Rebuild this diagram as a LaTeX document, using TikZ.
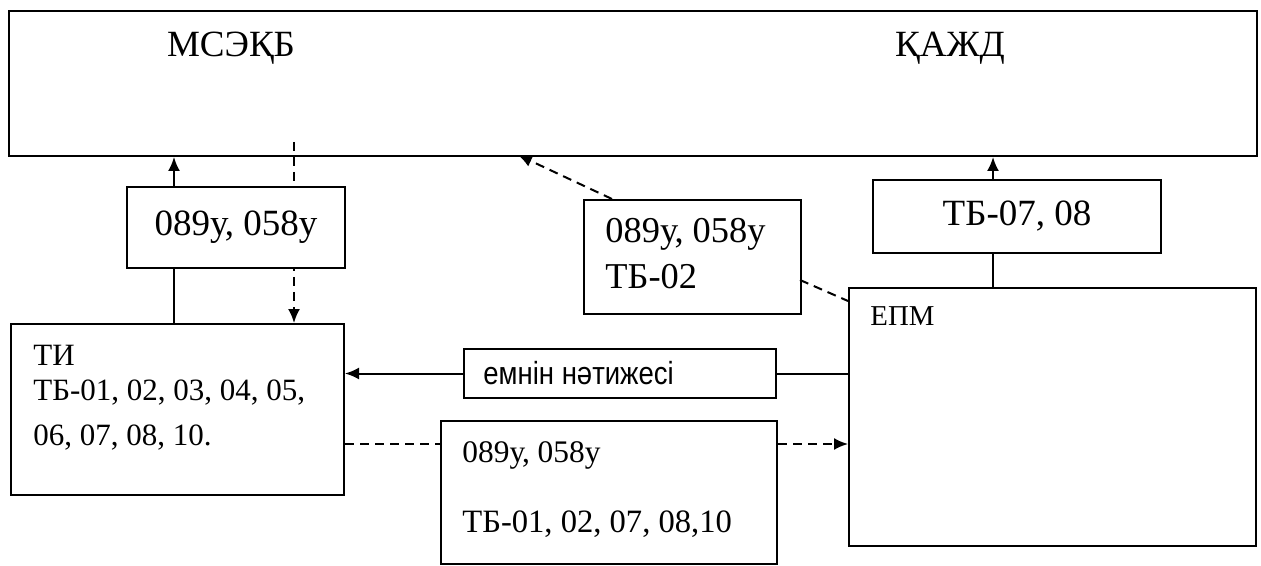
\documentclass[tikz,border=0pt]{standalone}
\usepackage{fontspec}
\setmainfont{Liberation Serif}
\newfontfamily\sansf{Liberation Sans}
\usetikzlibrary{arrows.meta,calc}
\begin{document}
\begin{tikzpicture}[x=0.5pt,y=-0.5pt,
  box/.style={draw,line width=1pt,inner sep=0pt,anchor=north west,fill=white},
  lnk/.style={line width=1pt},
  arr/.style={line width=1pt,-{Latex[length=7pt,width=6pt]}},
  darr/.style={line width=1pt,dash pattern=on 4.5pt off 3pt,-{Latex[length=7pt,width=6pt]}},
  dln/.style={line width=1pt,dash pattern=on 4.5pt off 3pt},
  txt/.style={inner sep=0pt,anchor=base west},
  fA/.style={font=\fontsize{18.5}{22}\selectfont},
  fB/.style={font=\fontsize{15.5}{19}\selectfont},
  fC/.style={font=\fontsize{16.3}{19}\selectfont},
]
\useasboundingbox[fill=white] (0,0) rectangle (1261,566);

% dashed line that runs behind the left small box
\coordinate (d1) at (294,142);
\node[box,minimum width=624pt,minimum height=72.5pt] (top) at (8,10) {};
\node[fA,inner sep=0pt,anchor=base] (msekb) at (231,57) {МСЭҚБ};
\node[fA,inner sep=0pt,anchor=base] (kazhd) at (950,57) {ҚАЖД};

\node[box,minimum width=166.5pt,minimum height=85.5pt] (ti) at (10,323) {};
\draw[darr] (d1) -- (d1 |- ti.north);

\node[box,minimum width=109pt,minimum height=40.5pt,fA] (b1) at (126,186) {089у, 058у};
\node[box,minimum width=108.5pt,minimum height=57pt] (b2) at (583,199) {};
\node[box,minimum width=144pt,minimum height=36.5pt,fA] (b3) at (872,179) {ТБ-07, 08};
\node[box,minimum width=156pt,minimum height=24.5pt] (emn) at (463,348) {};
\node[box,minimum width=168pt,minimum height=71.5pt] (b4) at (440,420) {};
\node[box,minimum width=203.5pt,minimum height=129pt] (epm) at (848,287) {};

% texts
\node[txt,fB] (ti1) at (33,365) {ТИ};
\node[txt,fB] (ti2) at (33,400) {ТБ-01, 02, 03, 04, 05,};
\node[txt,fB] (ti3) at (33,445) {06, 07, 08, 10.};
\node[txt,font=\fontsize{18.2}{22}\selectfont] (b2a) at (605,243) {089у, 058у};
\node[txt,font=\fontsize{18.2}{22}\selectfont] (b2b) at (605,288) {ТБ-02};
\node[txt,font=\sansf\fontsize{16}{19}\selectfont] (emnt) at (483,384) {\scalebox{0.86}[1]{емнін нәтижесі}};
\node[txt,font=\fontsize{15.7}{19}\selectfont] (b4a) at (462,462) {089у, 058у};
\node[txt,fC] (b4b) at (462,532) {ТБ-01, 02, 07, 08,10};
\node[txt,font=\fontsize{14.4}{17}\selectfont] (epmt) at (870,325) {ЕПМ};

% connectors
\coordinate (c1) at (174,0);
\draw[arr] (b1.north -| c1) -- (top.south -| c1);
\draw[lnk] (b1.south -| c1) -- (ti.north -| c1);

\coordinate (c2s) at (612,199);
\coordinate (c2e) at (518,155);
\draw[darr] (c2s) -- (c2e);

\coordinate (c3s) at (800,280);
\coordinate (c3e) at (848,301);
\draw[dln] (c3s) -- (c3e);

\coordinate (c4) at (993,0);
\draw[arr] (b3.north -| c4) -- (top.south -| c4);
\draw[lnk] (b3.south -| c4) -- (epm.north -| c4);

\draw[lnk] (epm.west |- emn.east) -- (emn.east);
\draw[arr] (emn.west) -- (ti.east |- emn.west);

\coordinate (c5) at (0,444);
\draw[dln] (ti.east |- c5) -- (b4.west |- c5);
\draw[darr] (b4.east |- c5) -- (epm.west |- c5);
\end{tikzpicture}
\end{document}
